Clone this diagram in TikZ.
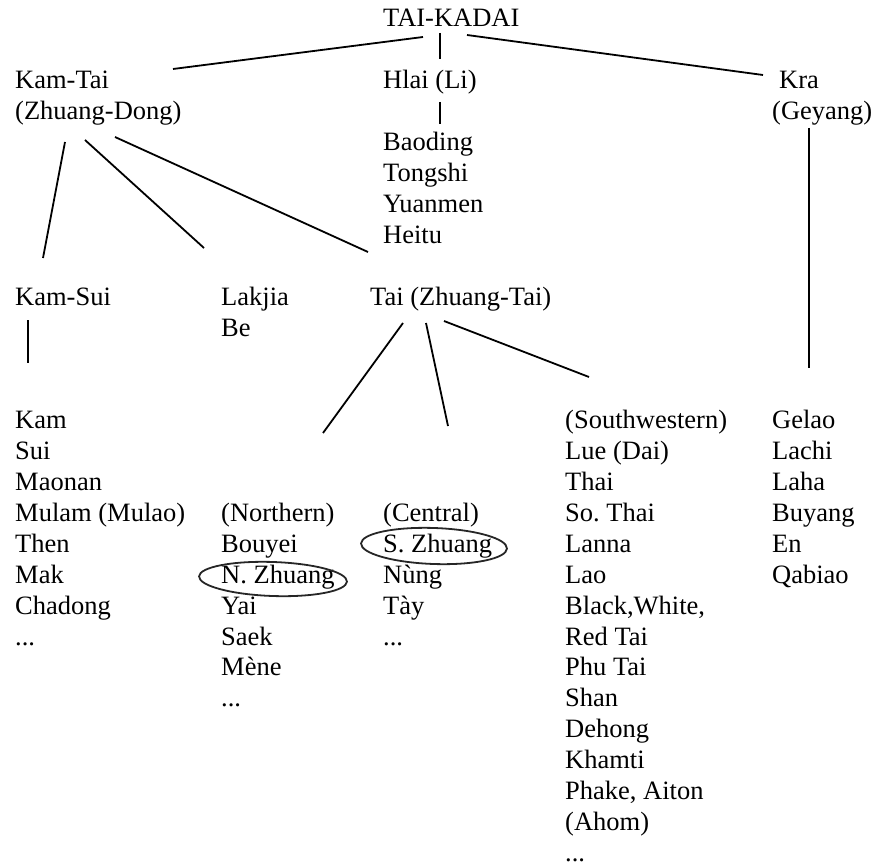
\documentclass[tikz,border=0pt]{standalone}
\usepackage{fontspec}
\setmainfont{Liberation Serif}
\frenchspacing
\newcommand\mydots{...}
\tikzset{
  lbl/.style={anchor=base west, inner sep=0pt, font=\fontsize{26.5}{30.9}\selectfont\frenchspacing},
  conn/.style={line width=1.8pt, line cap=butt},
  oval/.style={line width=1.8pt, draw=black!85}
}
\begin{document}
\begin{tikzpicture}[x=1pt,y=-1pt]
\useasboundingbox (0,0) rectangle (874,866);
\def\LS{30.9}
% top level
\node[lbl] (root) at (383,27) {TAI-KADAI};
\node[lbl] (kamtai) at (15,{27+\LS*2}) {Kam-Tai};
\node[lbl] (zhdong) at (15,{27+\LS*3}) {(Zhuang-Dong)};
\node[lbl] (hlai) at (383,{27+\LS*2}) {Hlai (Li)};
\node[lbl] (kra) at (779,{27+\LS*2}) {Kra};
\node[lbl] (geyang) at (772,{27+\LS*3}) {(Geyang)};
\foreach [count=\i from 0] \t in {Baoding,Tongshi,Yuanmen,Heitu}
  \node[lbl] (li\i) at (383,{27+\LS*(4+\i)}) {\t};
% second level
\node[lbl] (kamsui) at (15,{27+\LS*9}) {Kam-Sui};
\node[lbl] (lakjia) at (221,{27+\LS*9}) {Lakjia};
\node[lbl] (be) at (221,{27+\LS*10}) {Be};
\node[lbl] (tai) at (370,{27+\LS*9}) {Tai (Zhuang-Tai)};
% lists
\foreach [count=\i from 0] \t in {Kam,Sui,Maonan,Mulam (Mulao),Then,Mak,Chadong,\mydots}
  \node[lbl] (ks\i) at (15,{27+\LS*(13+\i)}) {\t};
\foreach [count=\i from 0] \t in {(Southwestern),Lue (Dai),Thai,So. Thai,Lanna,Lao,{Black,White,},Red Tai,Phu Tai,Shan,Dehong,Khamti,{Phake, Aiton},(Ahom),\mydots}
  \node[lbl] (sw\i) at (565,{27+\LS*(13+\i)}) {\t};
\foreach [count=\i from 0] \t in {Gelao,Lachi,Laha,Buyang,En,Qabiao}
  \node[lbl] (ge\i) at (772,{27+\LS*(13+\i)}) {\t};
\foreach [count=\i from 0] \t in {(Northern),Bouyei,N. Zhuang,Yai,Saek,Mène,\mydots}
  \node[lbl] (no\i) at (221,{27+\LS*(16+\i)}) {\t};
\foreach [count=\i from 0] \t in {(Central),S. Zhuang,Nùng,Tày,\mydots}
  \node[lbl] (ce\i) at (383,{27+\LS*(16+\i)}) {\t};
% ovals
\draw[oval,rotate around={-2:(273,579)}] (273,579) ellipse [x radius=74, y radius=17];
\draw[oval,rotate around={-2:(434,546)}] (434,546) ellipse [x radius=73, y radius=18];
% connector end points
\coordinate (r-l) at (423,37);  \coordinate (kt-t) at (173,69);
\coordinate (r-m) at (440,33);  \coordinate (hl-t) at (440,59);
\coordinate (r-r) at (467,35);  \coordinate (kr-t) at (763,75);
\coordinate (hl-b) at (440,102); \coordinate (li-t) at (440,124);
\coordinate (gy-b) at (809,128); \coordinate (ge-t) at (809,368);
\coordinate (kt-b1) at (65,142);  \coordinate (ks-t) at (43,258);
\coordinate (kt-b2) at (85,140);  \coordinate (lk-t) at (204,248);
\coordinate (kt-b3) at (115,137); \coordinate (ta-t) at (368,252);
\coordinate (ks-b) at (28,320);   \coordinate (kl-t) at (28,363);
\coordinate (ta-b1) at (403,323); \coordinate (no-t) at (323,433);
\coordinate (ta-b2) at (426,323); \coordinate (ce-t) at (448,426);
\coordinate (ta-b3) at (444,321); \coordinate (sw-t) at (589,377);
% connectors
\draw[conn] (r-l) -- (kt-t);
\draw[conn] (r-m) -- (hl-t);
\draw[conn] (r-r) -- (kr-t);
\draw[conn] (hl-b) -- (li-t);
\draw[conn] (gy-b) -- (ge-t);
\draw[conn] (kt-b1) -- (ks-t);
\draw[conn] (kt-b2) -- (lk-t);
\draw[conn] (kt-b3) -- (ta-t);
\draw[conn] (ks-b) -- (kl-t);
\draw[conn] (ta-b1) -- (no-t);
\draw[conn] (ta-b2) -- (ce-t);
\draw[conn] (ta-b3) -- (sw-t);
\end{tikzpicture}
\end{document}
